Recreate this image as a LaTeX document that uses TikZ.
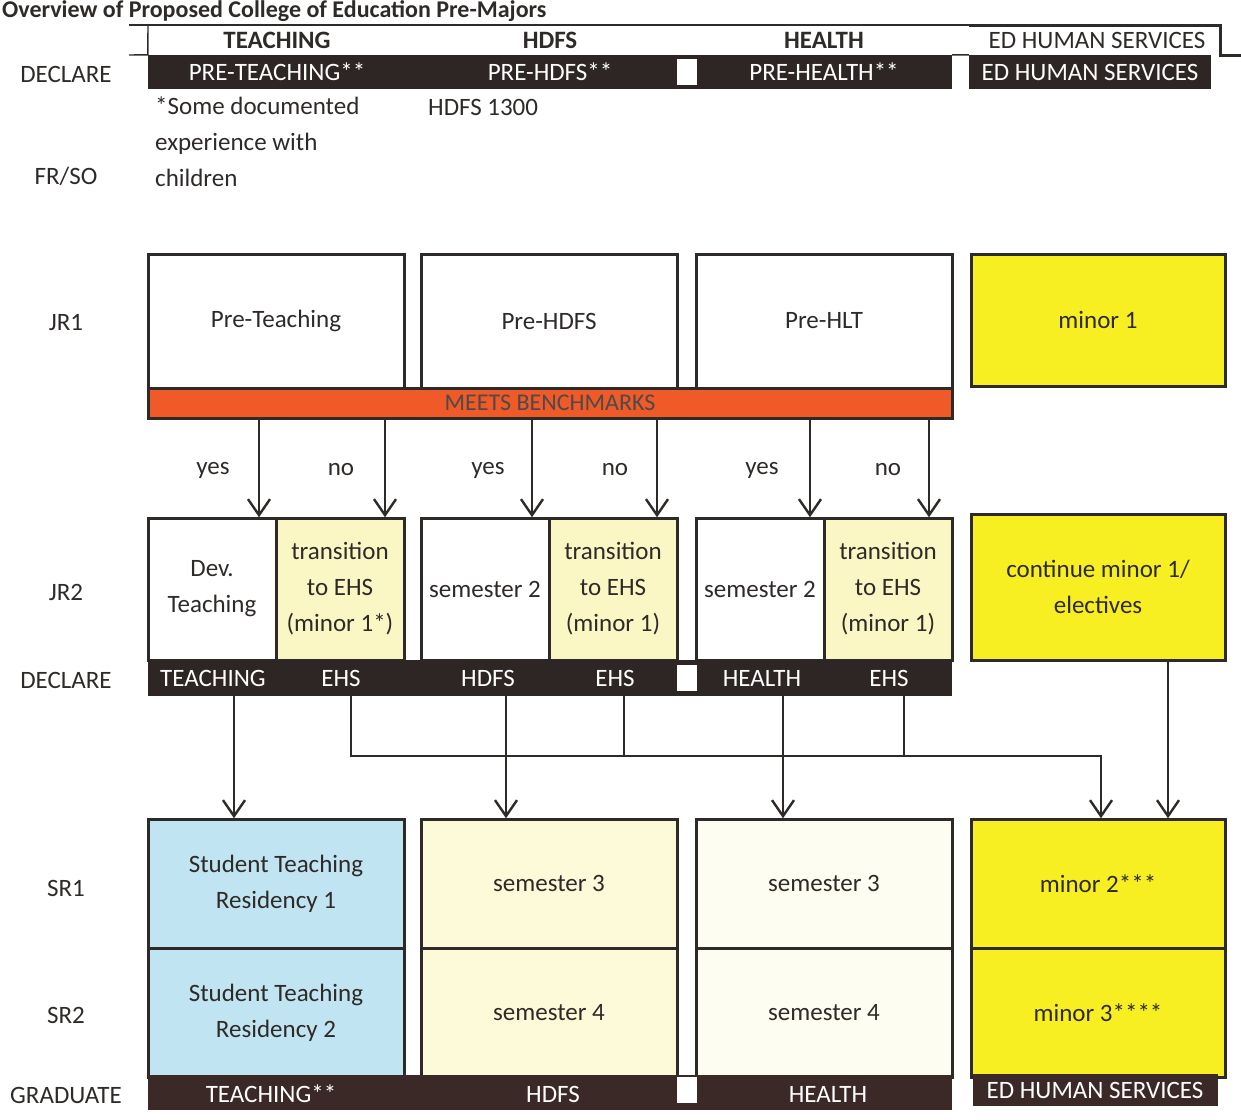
\documentclass[tikz,border=0pt]{standalone}
\usepackage{fontspec}
\setmainfont{Carlito}
\usetikzlibrary{arrows.meta}
\definecolor{ink}{HTML}{2E2A28}
\definecolor{barDark}{HTML}{2D2624}
\definecolor{barBrown}{HTML}{3B2927}
\definecolor{benchOrange}{HTML}{F05A28}
\definecolor{minorYellow}{HTML}{F7EF22}
\definecolor{paleYellow}{HTML}{FBF7C4}
\definecolor{creamYellow}{HTML}{FDFADA}
\definecolor{offWhite}{HTML}{FEFDF1}
\definecolor{skyBlue}{HTML}{C0E4F1}

\begin{document}
\begin{tikzpicture}[x=1pt,y=-1pt,scale=0.5,transform shape]
  \tikzstyle{TextStyle}=[font=\fontsize{25}{36}\selectfont,text=ink,inner sep=0pt]
  \tikzstyle{HeadStyle}=[TextStyle,font=\fontsize{25}{36}\selectfont\bfseries]
  \tikzstyle{BoxStyle}=[TextStyle,draw=ink,line width=1.5pt,align=center]
  \tikzstyle{HalfStyle}=[BoxStyle,minimum width=128pt,minimum height=142pt]
  \tikzstyle{SrStyle}=[BoxStyle,minimum width=256pt,minimum height=129pt]
  \tikzstyle{BarStyle}=[fill=barDark,inner sep=0pt]
  \tikzstyle{BarText}=[TextStyle,text=white]
  \tikzstyle{GapStyle}=[fill=white,inner sep=0pt,minimum width=20pt,minimum height=26pt]
  \tikzstyle{ArrowStyle}=[draw=ink,line width=1pt,-{Straight Barb[length=8pt,width=11pt,line width=1.2pt]}]
  \tikzstyle{LineStyle}=[draw=ink,line width=0.7pt]
  \useasboundingbox (0,0) rectangle (1241,1119);

  \node[TextStyle,anchor=base west,font=\fontsize{24}{30}\selectfont\bfseries] (title) at (2,18)
    {Overview of Proposed College of Education Pre-Majors};
  % header
  \node[HeadStyle] (hTeach) at (277,40) {TEACHING};
  \node[HeadStyle] (hHdfs) at (550,40) {HDFS};
  \node[HeadStyle] (hHealth) at (824,40) {HEALTH};
  \node[TextStyle] (hEhs) at (1097,40) {ED HUMAN SERVICES};
  \node[BarStyle,minimum width=804pt,minimum height=34pt] (decA) at (550,72) {};
  \node[BarStyle,BarText,minimum width=242pt,minimum height=34pt] (decAE) at (1090,72) {ED HUMAN SERVICES};
  \node[BarText] (dA1) at (277,72) {PRE-TEACHING**};
  \node[BarText] (dA2) at (550,72) {PRE-HDFS**};
  \node[BarText] (dA3) at (824,72) {PRE-HEALTH**};
  \node[GapStyle] (gapA) at (687,72) {};
  \draw[LineStyle] (129,25) -- (969,25);
  \draw[ink,line width=1.5pt] (969,25) -- (1220,25) -- (1220,55) -- (1241,55);
  \draw[LineStyle] (148,25) -- (decA.north west) -- (129,55);
  \draw[LineStyle] (decA.north east) -- (decAE.north west);

  \node[TextStyle,anchor=north west,align=left] (note) at (155,97) {*Some documented\\experience with\\children};
  \node[TextStyle,anchor=west] (hdfsNote) at (428,107) {HDFS 1300};

  % row labels
  \node[TextStyle] (rDecA) at (66,74) {DECLARE};
  \node[TextStyle] (rFrSo) at (66,176) {FR/SO};
  \node[TextStyle] (rJr1) at (66,323) {JR1};
  \node[TextStyle] (rJr2) at (66,592) {JR2};
  \node[TextStyle] (rDecB) at (66,680) {DECLARE};
  \node[TextStyle] (rSr1) at (66,888) {SR1};
  \node[TextStyle] (rSr2) at (66,1015) {SR2};
  \node[TextStyle] (rGrad) at (66,1095) {GRADUATE};

  % JR1
  \node[BoxStyle,minimum width=256pt,minimum height=134pt] (preT) at (276,321) {Pre-Teaching};
  \node[BoxStyle,minimum width=256pt,minimum height=134pt] (preH) at (549,321) {Pre-HDFS};
  \node[BoxStyle,minimum width=256pt,minimum height=134pt] (preL) at (824,321) {Pre-HLT};
  \node[BoxStyle,fill=benchOrange,text=ink!85,minimum width=804pt,minimum height=30pt,
        font=\fontsize{24}{28}\selectfont] (bench) at (550,403) {MEETS BENCHMARKS};
  \node[BoxStyle,fill=minorYellow,minimum width=254pt,minimum height=132pt] (minA) at (1098,320) {minor 1};

  % JR2
  \node[HalfStyle] (devT) at (212,589) {Dev.\\Teaching};
  \node[HalfStyle,fill=paleYellow] (tranT) at (340,589) {transition\\to EHS\\(minor 1*)};
  \node[HalfStyle] (semH) at (485,589) {semester 2};
  \node[HalfStyle,fill=paleYellow] (tranH) at (613,589) {transition\\to EHS\\(minor 1)};
  \node[HalfStyle] (semL) at (760,589) {semester 2};
  \node[HalfStyle,fill=paleYellow] (tranL) at (888,589) {transition\\to EHS\\(minor 1)};
  \node[BoxStyle,fill=minorYellow,minimum width=254pt,minimum height=146pt] (cont) at (1098,587) {continue minor 1/\\electives};
  \node[BarStyle,minimum width=804pt,minimum height=36pt] (decB) at (550,678) {};
  \foreach \x/\t [count=\i] in {213/TEACHING,341/EHS,488/HDFS,615/EHS,762/HEALTH,889/EHS}
    \node[BarText] (dB\i) at (\x,678) {\t};
  \node[GapStyle] (gapB) at (687,678) {};

  \foreach \n/\x in {c1/259,c2/385,c3/532,c4/657,c5/810,c6/929}
    \coordinate (\n) at (\x,0);
  \draw[ArrowStyle] (bench.south -| c1) -- (devT.north -| c1);
  \draw[ArrowStyle] (bench.south -| c2) -- (tranT.north -| c2);
  \draw[ArrowStyle] (bench.south -| c3) -- (semH.north -| c3);
  \draw[ArrowStyle] (bench.south -| c4) -- (tranH.north -| c4);
  \draw[ArrowStyle] (bench.south -| c5) -- (semL.north -| c5);
  \draw[ArrowStyle] (bench.south -| c6) -- (tranL.north -| c6);
  \foreach \x/\t [count=\i] in {213/yes,341/no,488/yes,615/no,762/yes,888/no}
    \node[TextStyle] (yn\i) at (\x,470) {\t};

  % SR1 / SR2
  \node[SrStyle,fill=skyBlue] (stA) at (276,883.5) {Student Teaching\\Residency 1};
  \node[SrStyle,fill=skyBlue] (stB) at (276,1012.5) {Student Teaching\\Residency 2};
  \node[SrStyle,fill=creamYellow] (s3H) at (549,883.5) {semester 3};
  \node[SrStyle,fill=creamYellow] (s4H) at (549,1012.5) {semester 4};
  \node[SrStyle,fill=offWhite] (s3L) at (824,883.5) {semester 3};
  \node[SrStyle,fill=offWhite] (s4L) at (824,1012.5) {semester 4};
  \node[SrStyle,fill=minorYellow,minimum width=254pt] (mnB) at (1098,883.5) {minor 2***};
  \node[SrStyle,fill=minorYellow,minimum width=254pt] (mnC) at (1098,1012.5) {minor 3****};

  \foreach \n/\x in {k1/234,k2/351,k3/506,k4/624,k5/783,k6/904,k7/1101,k8/1168}
    \coordinate (\n) at (\x,0);
  \coordinate (hl) at (0,756);
  \draw[ArrowStyle] (decB.south -| k1) -- (stA.north -| k1);
  \draw[ArrowStyle,line width=0.7pt] (decB.south -| k2) |- (hl -| k7) -- (mnB.north -| k7);
  \draw[ArrowStyle] (decB.south -| k3) -- (s3H.north -| k3);
  \draw[LineStyle] (decB.south -| k4) -- (hl -| k4);
  \draw[ArrowStyle] (decB.south -| k5) -- (s3L.north -| k5);
  \draw[LineStyle] (decB.south -| k6) -- (hl -| k6);
  \draw[ArrowStyle] (cont.south -| k8) -- (mnB.north -| k8);

  % graduate
  \node[BarStyle,fill=barBrown,minimum width=804pt,minimum height=35pt] (grad) at (550,1092.5) {};
  \node[BarText] (g1) at (271,1094) {TEACHING**};
  \node[BarText] (g2) at (553,1094) {HDFS};
  \node[BarText] (g3) at (828,1094) {HEALTH};
  \node[GapStyle] (gapC) at (687,1090) {};
  \node[BarStyle,BarText,fill=barBrown,minimum width=245pt,minimum height=32pt] (gradE) at (1095,1090) {ED HUMAN SERVICES};
\end{tikzpicture}
\end{document}
